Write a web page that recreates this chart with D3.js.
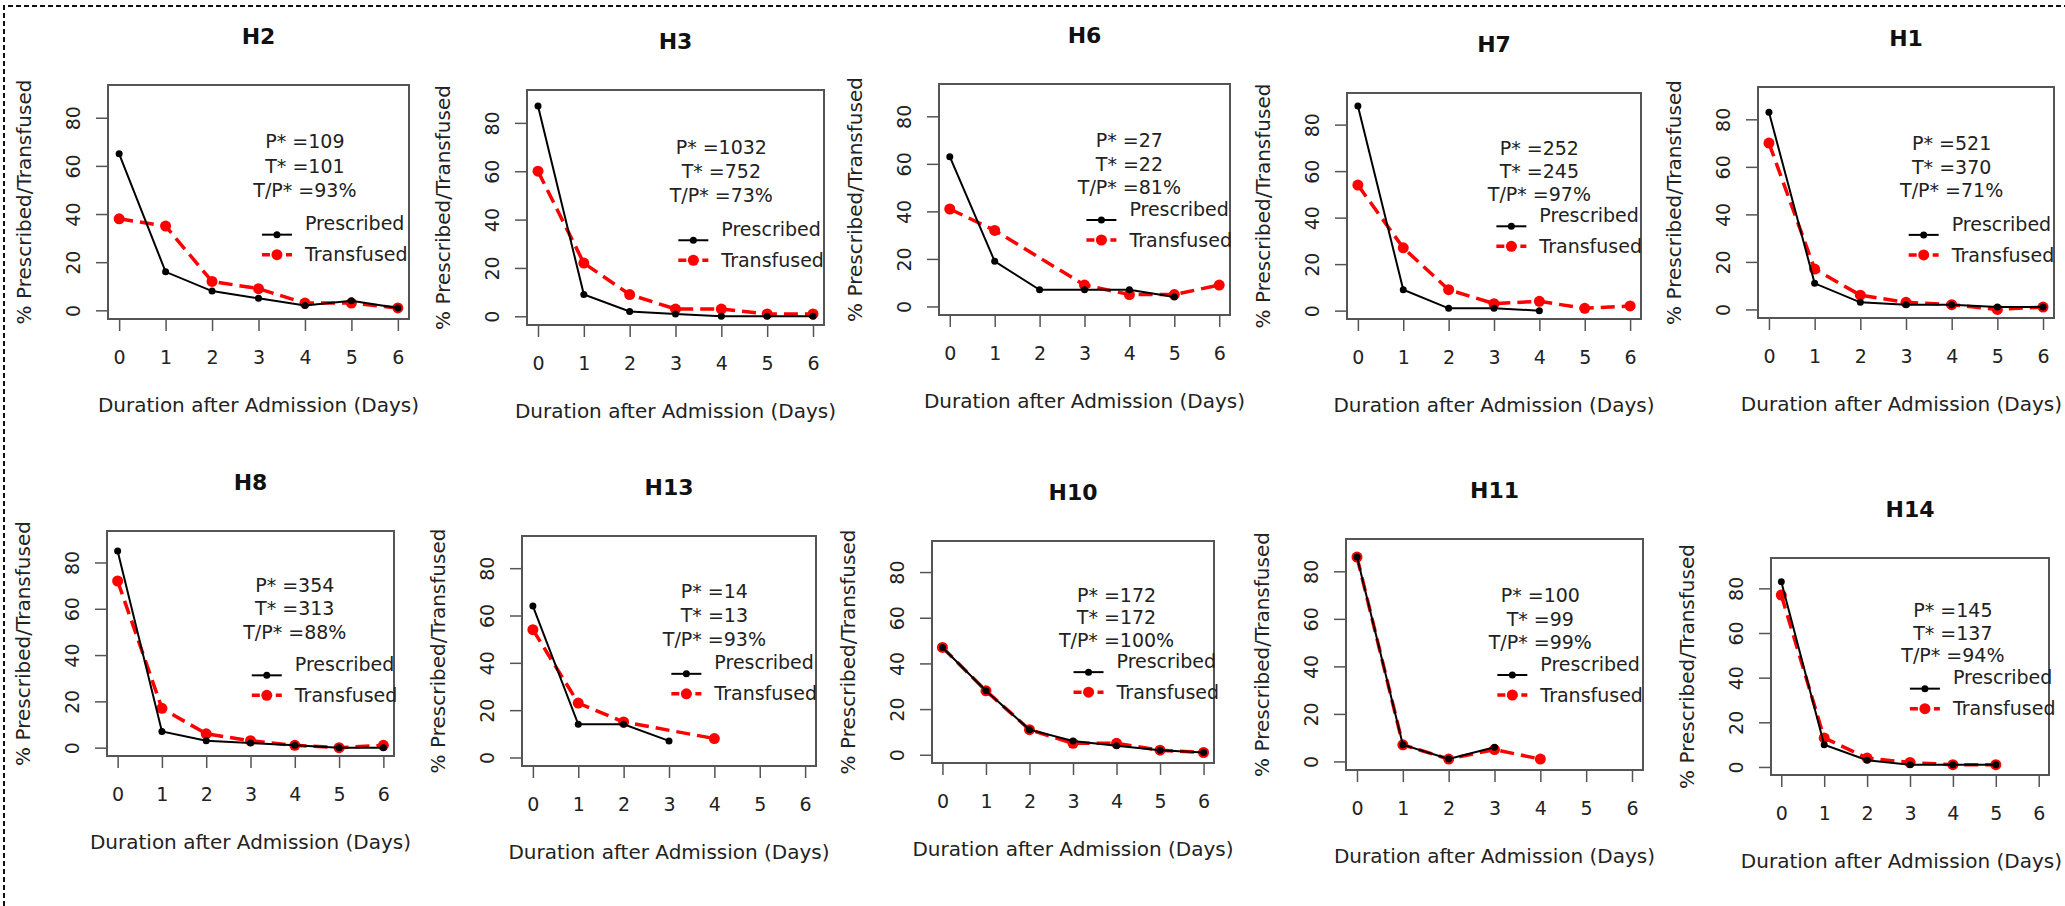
<!DOCTYPE html>
<html>
<head>
<meta charset="utf-8">
<script src="https://cdn.jsdelivr.net/npm/d3@7"></script>
<style>
  body { margin: 0; background: #fff; }
  svg { display: block; font-family: "DejaVu Sans", sans-serif; }
</style>
</head>
<body>
<div id="container"></div>
<script>
// data (% of prescriptions / transfusions per day after admission)
const days = [0, 1, 2, 3, 4, 5, 6];
const hospitals = ["H2", "H3", "H6", "H7", "H1", "H8", "H13", "H10", "H11", "H14"];
const prescribed = [
  [65, 16, 8, 5, 2, 4, 1],
  [87, 9, 2, 1, 0, 0, 0],
  [63, 19, 7, 7, 7, 4, null],
  [88, 9, 1, 1, 0, null, null],
  [83, 11, 3, 2, 2, 1, 1],
  [85, 7, 3, 2, 1, 0, 0],
  [64, 14, 14, 7, null, null, null],
  [47, 28, 11, 6, 4, 2, 1],
  [86, 7, 1, 6, null, null, null],
  [83, 10, 3, 1, 1, 1, null],
];
const transfused = [
  [38, 35, 12, 9, 3, 3, 1],
  [60, 22, 9, 3, 3, 1, 1],
  [41, 32, null, 9, 5, 5, 9],
  [54, 27, 9, 3, 4, 1, 2],
  [70, 17, 6, 3, 2, 0, 1],
  [72, 17, 6, 3, 1, 0, 1],
  [54, 23, 15, null, 8, null, null],
  [47, 28, 11, 5, 5, 2, 1],
  [86, 7, 1, 5, 1, null, null],
  [77, 13, 4, 2, 1, 1, null],
];
const nPrescribed = [109, 1032, 27, 252, 521, 354, 14, 172, 100, 145];
const nTransfused = [101, 752, 22, 245, 370, 313, 13, 172, 99, 137];
const ratioPct = [93, 73, 81, 97, 71, 88, 93, 100, 99, 94];
const yTicks = [0, 20, 40, 60, 80];

// layout: plot box [left, top, right, bottom] and legend height (data units)
const boxes = [
  [108, 85, 409, 319], [527, 90, 824, 325], [939, 84, 1230, 315],
  [1347, 93, 1641, 319], [1758, 87, 2054, 318],
  [107, 531, 394, 756], [522, 536, 816, 766], [932, 541, 1214, 763],
  [1346, 539, 1643, 770], [1771, 558, 2049, 775],
];
const legendY = [36, 36, 41, 41, 36, 36, 40, 41, 41, 40];

const width = 2065;
const height = 906;
const textColor = "#222";
const axisColor = "#555";

const svg = d3
  .select("#container")
  .append("svg")
  .attr("width", width)
  .attr("height", height);

// dashed frame (only top and left edges are visible)
svg
  .append("path")
  .attr("d", `M4,${height} V6 H${width}`)
  .attr("fill", "none")
  .attr("stroke", "#111")
  .attr("stroke-width", 2)
  .attr("stroke-dasharray", "5,3");

hospitals.forEach((name, i) => {
  const [left, top, right, bottom] = boxes[i];
  // R style limits: xlim 0..6, ylim 0..90, each padded 4%
  const x = d3.scaleLinear().domain([-0.24, 6.24]).range([left, right]);
  const y = d3.scaleLinear().domain([-3.6, 93.6]).range([bottom, top]);
  const g = svg.append("g");

  g.append("text")
    .attr("x", (left + right) / 2)
    .attr("y", top - 49)
    .attr("dy", "0.35em")
    .attr("text-anchor", "middle")
    .attr("font-size", 22)
    .attr("font-weight", "bold")
    .attr("fill", "#111")
    .text(name);

  const xAxis = g
    .append("g")
    .attr("transform", `translate(0,${bottom})`)
    .call(d3.axisBottom(x).tickValues(days).tickSize(12).tickFormat(d3.format("d")));
  xAxis.select(".domain").remove();
  xAxis.selectAll("line").attr("stroke", axisColor).attr("stroke-width", 1.5);
  xAxis
    .selectAll("text")
    .attr("y", 38)
    .attr("dy", "0.35em")
    .attr("font-size", 19)
    .attr("font-family", "DejaVu Sans")
    .attr("fill", textColor);

  const yAxis = g
    .append("g")
    .attr("transform", `translate(${left},0)`)
    .call(d3.axisLeft(y).tickValues(yTicks).tickSize(12));
  yAxis.select(".domain").remove();
  yAxis.selectAll("line").attr("stroke", axisColor).attr("stroke-width", 1.5);
  yAxis
    .selectAll("text")
    .attr("x", 0)
    .attr("dy", "0.35em")
    .attr("transform", "translate(-35,0) rotate(-90)")
    .attr("text-anchor", "middle")
    .attr("font-size", 19)
    .attr("font-family", "DejaVu Sans")
    .attr("fill", textColor);

  g.append("rect")
    .attr("x", left)
    .attr("y", top)
    .attr("width", right - left)
    .attr("height", bottom - top)
    .attr("fill", "none")
    .attr("stroke", axisColor)
    .attr("stroke-width", 2);

  const xLabel = g
    .append("text")
    .attr("x", (left + right) / 2)
    .attr("y", bottom + 86)
    .attr("dy", "0.35em")
    .attr("text-anchor", "middle")
    .attr("font-size", 20)
    .attr("fill", textColor)
    .text("Duration after Admission (Days)");
  // keep the label inside the page on the right-hand column
  const half = xLabel.node().getComputedTextLength() / 2;
  const overflow = (left + right) / 2 + half - (width - 3);
  if (overflow > 0) xLabel.attr("x", (left + right) / 2 - overflow);

  g.append("text")
    .attr("transform", `translate(${left - 84},${(top + bottom) / 2}) rotate(-90)`)
    .attr("dy", "0.35em")
    .attr("text-anchor", "middle")
    .attr("font-size", 20)
    .attr("fill", textColor)
    .text("% Prescribed/Transfused");

  const series = [
    { values: transfused[i], color: "#f00", width: 3.5, dash: "14,7", r: 5.5 },
    { values: prescribed[i], color: "#000", width: 2, dash: null, r: 3.5 },
  ];
  const line = d3
    .line()
    .x((d) => x(d.day))
    .y((d) => y(d.v));

  series.forEach((s) => {
    const pts = days
      .map((day, k) => ({ day, v: s.values[k] }))
      .filter((d) => d.v != null);
    g.append("path")
      .datum(pts)
      .attr("d", line)
      .attr("fill", "none")
      .attr("stroke", s.color)
      .attr("stroke-width", s.width)
      .attr("stroke-dasharray", s.dash);
    g.selectAll(null)
      .data(pts)
      .join("circle")
      .attr("cx", (d) => x(d.day))
      .attr("cy", (d) => y(d.v))
      .attr("r", s.r)
      .attr("fill", s.color);
  });

  const notes = [
    `P* =${nPrescribed[i]}`,
    `T* =${nTransfused[i]}`,
    `T/P* =${ratioPct[i]}%`,
  ];
  g.selectAll(null)
    .data(notes)
    .join("text")
    .attr("x", x(4))
    .attr("y", (d, k) => y(70 - k * 10))
    .attr("dy", "0.35em")
    .attr("text-anchor", "middle")
    .attr("font-size", 19)
    .attr("fill", textColor)
    .text((d) => d);

  // legend
  const lx = x(4);
  const ly = y(legendY[i]);
  const entries = [
    { label: "Prescribed", textY: ly, keyY: ly + 11, s: series[1] },
    { label: "Transfused", textY: ly + 31, keyY: ly + 31, s: series[0] },
  ];
  entries.forEach((e) => {
    g.append("line")
      .attr("x1", lx - 43)
      .attr("x2", lx - 13)
      .attr("y1", e.keyY)
      .attr("y2", e.keyY)
      .attr("stroke", e.s.color)
      .attr("stroke-width", e.s.width)
      .attr("stroke-dasharray", e.s.dash ? "8,4" : null);
    g.append("circle")
      .attr("cx", lx - 28)
      .attr("cy", e.keyY)
      .attr("r", e.s.r)
      .attr("fill", e.s.color);
    g.append("text")
      .attr("x", lx)
      .attr("y", e.textY)
      .attr("dy", "0.35em")
      .attr("font-size", 19)
      .attr("fill", textColor)
      .text(e.label);
  });
});
</script>
</body>
</html>
